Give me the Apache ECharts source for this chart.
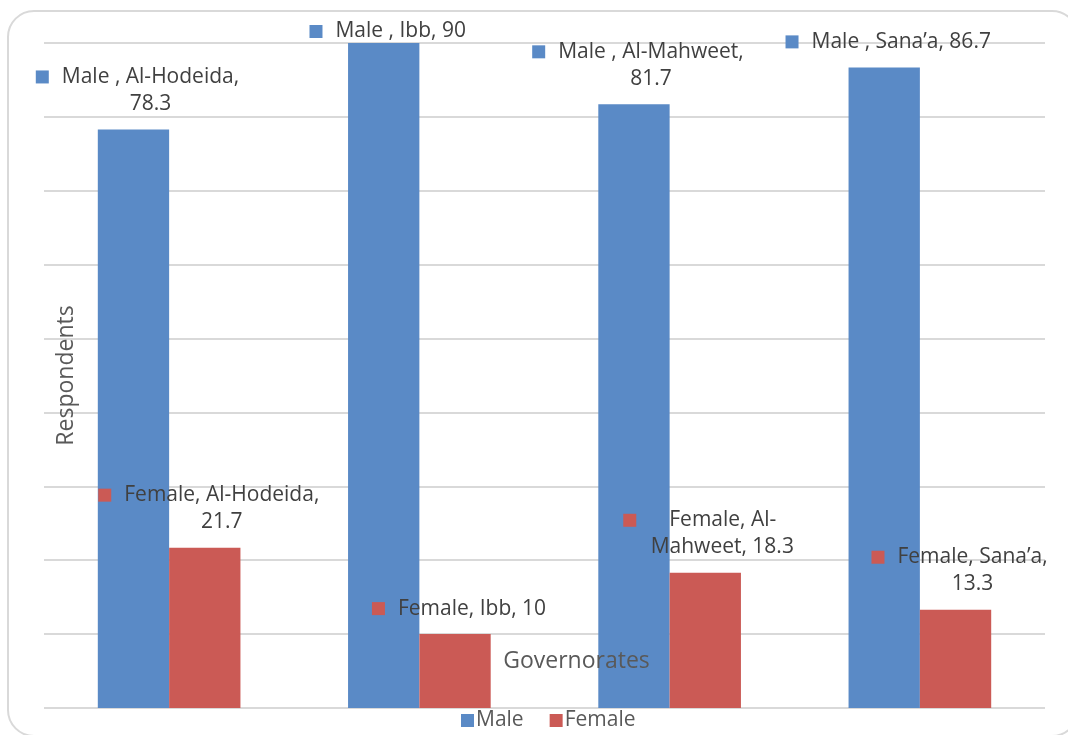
<!DOCTYPE html>
<html>
<head>
<meta charset="utf-8">
<script src="https://cdn.jsdelivr.net/npm/echarts@6/dist/echarts.min.js"></script>
<style>
html,body{margin:0;padding:0;background:#fff;}
#chart{width:1068px;height:735px;}
</style>
</head>
<body>
<div id="chart"></div>
<script>
// ---- data ----
const categories = ['Al-Hodeida', 'Ibb', 'Al-Mahweet', 'Sana’a'];
const seriesNames = ['Male', 'Female'];
const maleValues = [78.3, 90, 81.7, 86.7];
const femaleValues = [21.7, 10, 18.3, 13.3];
const yTicks = [0, 10, 20, 30, 40, 50, 60, 70, 80, 90];
// data-label text (series part, category part with Excel's wrapping)
const labelPrefixes = ['Male , ', 'Female, '];
const maleLabelBodies = ['Al-Hodeida,\n', 'Ibb, ', 'Al-Mahweet,\n', 'Sana’a, '];
const femaleLabelBodies = ['Al-Hodeida,\n', 'Ibb, ', 'Al-\nMahweet, ', 'Sana’a,\n'];

const colors = ['#5A8AC6', '#CB5A55'];
const FONT = '"Open Sans", "Noto Sans", sans-serif';

function makeFormatter(prefix, bodies) {
  return function (p) {
    const txt = prefix + bodies[p.dataIndex] + p.value;
    const lines = txt.split('\n');
    // when the first line is the shorter one, Excel keeps the marker at the block's left edge
    const wide = lines.length > 1 && lines[1].length > lines[0].length;
    return lines.map((l, i) => {
      if (i > 0) return '{sp|}{t|' + l + '}';
      return wide ? '{sq|}{gw|}{t|' + l + '}{pr|}' : '{sq|}{g|}{t|' + l + '}';
    }).join('\n');
  };
}
function richFor(color) {
  return {
    sq: { width: 13, height: 13, backgroundColor: color, verticalAlign: 'middle' },
    g: { width: 13, height: 13 },
    gw: { width: 33, height: 13 },
    pr: { width: 19, height: 13 },
    sp: { width: 26, height: 13 },
    t: { fontFamily: FONT, fontSize: 21, color: '#404040', lineHeight: 27, verticalAlign: 'middle' }
  };
}

const chart = echarts.init(document.getElementById('chart'), null, { renderer: 'canvas' });
const option = {
  animation: false,
  backgroundColor: '#ffffff',
  color: colors,
  textStyle: { fontFamily: FONT },
  graphic: [{
    type: 'rect',
    z: -10,
    shape: { x: 8, y: 11, width: 1070, height: 725, r: 26 },
    style: { fill: 'none', stroke: '#d9d9d9', lineWidth: 2 }
  }],
  grid: { left: 44, right: 23, top: 43, bottom: 27, containLabel: false },
  legend: {
    data: seriesNames,
    bottom: -1,
    left: 456,
    icon: 'rect',
    itemWidth: 13,
    itemHeight: 13,
    itemGap: 26,
    textStyle: { fontFamily: FONT, fontSize: 21, color: '#595959', padding: [0, 0, 0, -3] }
  },
  xAxis: {
    type: 'category',
    data: categories,
    z: 10,
    name: 'Governorates',
    nameLocation: 'middle',
    nameGap: -58,
    nameTextStyle: { fontFamily: FONT, fontSize: 23, color: '#595959', padding: [0, 0, 0, 64] },
    axisLine: { show: false },
    axisTick: { show: false },
    axisLabel: { show: false }
  },
  yAxis: {
    type: 'value',
    min: yTicks[0],
    max: yTicks[yTicks.length - 1],
    interval: yTicks[1] - yTicks[0],
    name: 'Respondents',
    nameLocation: 'middle',
    nameRotate: 90,
    nameGap: -34,
    nameTextStyle: { fontFamily: FONT, fontSize: 23, color: '#595959' },
    axisLine: { show: false },
    axisTick: { show: false },
    axisLabel: { show: false },
    splitLine: { lineStyle: { color: '#d9d9d9', width: 2 } }
  },
  series: [
    {
      name: seriesNames[0],
      type: 'bar',
      barGap: '0%',
      barCategoryGap: '43%',
      data: maleValues.map((v) => (v === Math.max(...maleValues) ? { value: v, label: { offset: [4, 14] } } : v)),
      itemStyle: { color: colors[0] },
      label: {
        show: true,
        position: 'top',
        distance: 12,
        offset: [4, 0],
        align: 'center',
        formatter: makeFormatter(labelPrefixes[0], maleLabelBodies),
        rich: richFor(colors[0])
      }
    },
    {
      name: seriesNames[1],
      type: 'bar',
      barGap: '0%',
      barCategoryGap: '43%',
      data: femaleValues,
      itemStyle: { color: colors[1] },
      label: {
        show: true,
        position: 'top',
        distance: 12,
        offset: [4, 0],
        align: 'center',
        formatter: makeFormatter(labelPrefixes[1], femaleLabelBodies),
        rich: richFor(colors[1])
      }
    }
  ]
};
chart.setOption(option);
</script>
</body>
</html>
